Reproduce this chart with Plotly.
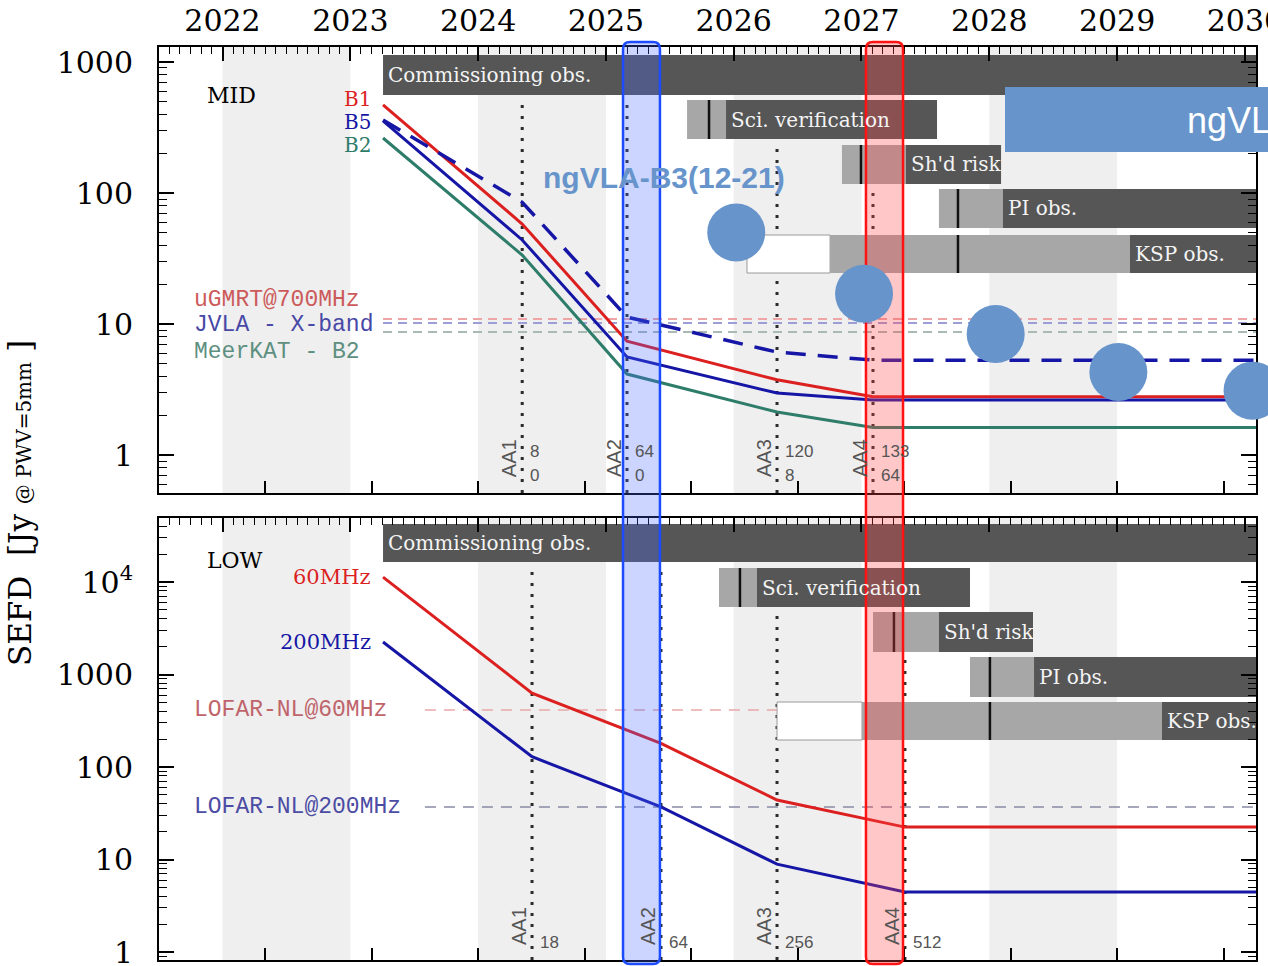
import math
import plotly.graph_objects as go

# ---------------------------------------------------------------- data
YEAR_TICKS = [2022, 2023, 2024, 2025, 2026, 2027, 2028, 2029, 2030]
YEAR_LABELS = ["2022", "2023", "2024", "2025", "2026", "2027", "2028", "2029", "2030"]
SHADED_YEARS = [[2022, 2023], [2024, 2025], [2026, 2027], [2028, 2029]]

CURVE_START = 2023.256

AA_NAMES = ["AA1", "AA2", "AA3", "AA4"]
MID_AA_YEAR = [2024.345, 2025.165, 2026.339, 2027.090]
MID_AA_SKA_DISHES = ["8", "64", "120", "133"]
MID_AA_MK_DISHES = ["0", "0", "8", "64"]
LOW_AA_YEAR = [2024.422, 2025.431, 2026.339, 2027.340]
LOW_AA_STATIONS = ["18", "64", "256", "512"]

# SEFD [Jy] at curve start, AA1, AA2, AA3, AA4 and at the end of the time axis
MID_B1 = [470, 58, 7.4, 3.75, 2.78, 2.78]
MID_B5 = [355, 43.8, 5.6, 2.97, 2.63, 2.63]
MID_B2 = [263, 33.6, 4.15, 2.13, 1.62, 1.62]
MID_B5_HI = [361, 85, 11.3, 6.1, 5.3, 5.3]
LOW_60MHZ = [11300, 630, 180, 44, 22.4, 22.4]
LOW_200MHZ = [2245, 129, 37, 8.9, 4.45, 4.45]

MID_REF_NAMES = ["uGMRT@700MHz", "JVLA - X-band", "MeerKAT - B2"]
MID_REF_SEFD = [10.9, 10.2, 8.7]
LOW_REF_NAMES = ["LOFAR-NL@60MHz", "LOFAR-NL@200MHz"]
LOW_REF_SEFD = [413, 37]
LOW_REF_START = 2023.584

PHASE_NAMES = ["Commissioning obs.", "Sci. verification", "Sh'd risk", "PI obs.", "KSP obs."]
MID_PHASE_OPEN = [None, None, None, None, 2026.104]
MID_PHASE_EARLY = [None, 2025.635, 2026.847, 2027.606, 2026.754]
MID_PHASE_NOMINAL = [None, 2025.807, 2026.996, 2027.755, 2027.755]
MID_PHASE_START = [2023.256, 2025.940, 2027.348, 2028.107, 2029.101]
MID_PHASE_END = [None, 2027.591, 2028.092, None, None]

LOW_PHASE_OPEN = [None, None, None, None, 2026.339]
LOW_PHASE_EARLY = [None, 2025.885, 2027.090, 2027.849, 2027.004]
LOW_PHASE_NOMINAL = [None, 2026.049, 2027.254, 2028.005, 2028.005]
LOW_PHASE_START = [2023.256, 2026.182, 2027.606, 2028.350, 2029.351]
LOW_PHASE_END = [None, 2027.849, 2028.342, None, None]

NGVLA_YEAR = [2026.02, 2027.02, 2028.05, 2029.01, 2030.06]
NGVLA_SEFD = [50, 17, 8.4, 4.3, 3.1]
HIGHLIGHT_YEARS = [[2025.134, 2025.423], [2027.035, 2027.325]]

# ---------------------------------------------------------------- layout
FIG_W, FIG_H = 1268, 966
PLOT_L, PLOT_R = 159, 1256
TOP_T, TOP_B = 47, 493
BOT_T, BOT_B = 518, 960
X_RANGE = [2021.503, 2030.087]
TOP_LOG = [-0.290, 3.1145]
BOT_LOG = [-0.0865, 4.692]

SERIF = "DejaVu Serif"
SANS = "Liberation Sans"
MONO = "Liberation Mono"

DARK = "#565656"
LIGHT = "#a7a7a7"
BAND = "#efefef"
RED = "#dc1f1f"
BLUE = "#1616a6"
GREEN = "#2e7c6a"
NGVLA = "#6794cb"

X_DOMAIN = [PLOT_L / FIG_W, PLOT_R / FIG_W]
TOP_DOMAIN = [1 - TOP_B / FIG_H, 1 - TOP_T / FIG_H]
BOT_DOMAIN = [1 - BOT_B / FIG_H, 1 - BOT_T / FIG_H]
TOP_H = TOP_B - TOP_T
BOT_H = BOT_B - BOT_T

# bar rows: (top, bottom) offsets from the panel's upper frame, px
TOP_ROWS = [(8, 48), (53, 92), (98, 137), (142, 181), (188, 226)]
BOT_ROWS = [(6, 44), (50, 89), (94, 134), (139, 179), (184, 222)]
AA_LINE_ROW = [0, 0, 1, 2]


def note(text, x, xref, y, yref, font, xanchor="center", **kw):
    return dict(text=text, x=x, xref=xref, y=y, yref=yref, xanchor=xanchor,
                yanchor="middle", showarrow=False, font=font, **kw)


def panel_decor(xr, yr, height, rows, phases, aa_years):
    yd = yr + " domain"
    shapes, notes = [], []
    for a, b in SHADED_YEARS:
        shapes.append(dict(type="rect", xref=xr, yref=yd, x0=a, x1=b, y0=0, y1=1,
                           fillcolor=BAND, line_width=0, layer="below"))
    for yv, r in zip(aa_years, AA_LINE_ROW):
        shapes.append(dict(type="line", xref=xr, yref=yd, x0=yv, x1=yv, y0=0,
                           y1=1 - (rows[r][1] + 4) / height, layer="below",
                           line=dict(color="#2a2a2a", width=3, dash="3px,8px")))
    p_open, p_early, p_nom, p_start, p_end = phases
    for k, name in enumerate(PHASE_NAMES):
        y_top = 1 - rows[k][0] / height
        y_bot = 1 - rows[k][1] / height
        stop = p_end[k] if p_end[k] is not None else X_RANGE[1]
        if p_open[k] is not None:
            shapes.append(dict(type="rect", xref=xr, yref=yd, x0=p_open[k], x1=p_early[k],
                               y0=y_bot, y1=y_top, fillcolor="white",
                               line=dict(color="#9a9a9a", width=1), layer="below"))
        if p_early[k] is not None:
            shapes.append(dict(type="rect", xref=xr, yref=yd, x0=p_early[k], x1=p_start[k],
                               y0=y_bot, y1=y_top, fillcolor=LIGHT, line_width=0, layer="below"))
        shapes.append(dict(type="rect", xref=xr, yref=yd, x0=p_start[k], x1=stop,
                           y0=y_bot, y1=y_top, fillcolor=DARK, line_width=0, layer="below"))
        if p_nom[k] is not None:
            shapes.append(dict(type="line", xref=xr, yref=yd, x0=p_nom[k], x1=p_nom[k],
                               y0=y_bot, y1=y_top, line=dict(color="#111111", width=2.5),
                               layer="below"))
        notes.append(note(name, p_start[k], xr, (y_top + y_bot) / 2, yd,
                          dict(family=SERIF, size=20, color="#f4f4f4"),
                          xanchor="left", xshift=3))
    return shapes, notes


def aa_notes(xr, yr, aa_years, rows_text, name_y):
    yd = yr + " domain"
    notes = []
    for k, yv in enumerate(aa_years):
        notes.append(note(AA_NAMES[k], yv, xr, name_y, yd,
                          dict(family=SANS, size=20, color="#555555"),
                          xshift=-13, textangle=-90))
        for labels, ty in rows_text:
            notes.append(note(labels[k], yv, xr, ty, yd,
                              dict(family=SANS, size=17, color="#555555"),
                              xanchor="left", xshift=6))
    return notes


fig = go.Figure()

# ---- MID panel
x_mid = [CURVE_START] + MID_AA_YEAR + [X_RANGE[1]]
for name, v, col in zip(MID_REF_NAMES, MID_REF_SEFD, ["#eda5a5", "#9d9dd8", "#a9bab2"]):
    fig.add_trace(go.Scatter(x=[CURVE_START, X_RANGE[1]], y=[v, v], mode="lines",
                             line=dict(color=col, width=2, dash="9px,6px"),
                             xaxis="x", yaxis="y", hoverinfo="skip"))
fig.add_trace(go.Scatter(x=x_mid, y=MID_B2, mode="lines", line=dict(color=GREEN, width=3),
                         xaxis="x", yaxis="y"))
fig.add_trace(go.Scatter(x=x_mid, y=MID_B1, mode="lines", line=dict(color=RED, width=3),
                         xaxis="x", yaxis="y"))
fig.add_trace(go.Scatter(x=x_mid, y=MID_B5, mode="lines", line=dict(color=BLUE, width=3),
                         xaxis="x", yaxis="y"))
fig.add_trace(go.Scatter(x=x_mid, y=MID_B5_HI, mode="lines",
                         line=dict(color=BLUE, width=3.5, dash="20px,12px"),
                         xaxis="x", yaxis="y"))
# empty carriers so the top-edge calendar axes get drawn
fig.add_trace(go.Scatter(x=[], y=[], xaxis="x3", yaxis="y", hoverinfo="skip"))
fig.add_trace(go.Scatter(x=[], y=[], xaxis="x4", yaxis="y2", hoverinfo="skip"))

# ---- LOW panel
x_low = [CURVE_START] + LOW_AA_YEAR + [X_RANGE[1]]
low_ref_end = [LOW_PHASE_OPEN[4], X_RANGE[1]]
for v, end, col in zip(LOW_REF_SEFD, low_ref_end, ["#e9a9a9", "#8a8aa6"]):
    fig.add_trace(go.Scatter(x=[LOW_REF_START, end], y=[v, v], mode="lines",
                             line=dict(color=col, width=1.6, dash="11px,8px"),
                             xaxis="x2", yaxis="y2", hoverinfo="skip"))
fig.add_trace(go.Scatter(x=x_low, y=LOW_60MHZ, mode="lines", line=dict(color=RED, width=3),
                         xaxis="x2", yaxis="y2"))
fig.add_trace(go.Scatter(x=x_low, y=LOW_200MHZ, mode="lines", line=dict(color=BLUE, width=3),
                         xaxis="x2", yaxis="y2"))

# ---- ngVLA points on a full-page twin of the MID scales (drawn above the highlights)
ppy = (PLOT_R - PLOT_L) / (X_RANGE[1] - X_RANGE[0])
ppd = TOP_H / (TOP_LOG[1] - TOP_LOG[0])
X5_RANGE = [X_RANGE[0] - PLOT_L / ppy, X_RANGE[1] + (FIG_W - PLOT_R) / ppy]
Y5_RANGE = [TOP_LOG[0] - (FIG_H - TOP_B) / ppd, TOP_LOG[1] + TOP_T / ppd]
fig.add_trace(go.Scatter(x=NGVLA_YEAR, y=NGVLA_SEFD, mode="markers", cliponaxis=False,
                         marker=dict(size=58, color=NGVLA, line_width=0),
                         xaxis="x5", yaxis="y5"))

# ---------------------------------------------------------------- shapes / notes
shapes, notes = [], []
s, n = panel_decor("x", "y", TOP_H, TOP_ROWS,
                   (MID_PHASE_OPEN, MID_PHASE_EARLY, MID_PHASE_NOMINAL, MID_PHASE_START,
                    MID_PHASE_END), MID_AA_YEAR)
shapes += s
notes += n
s, n = panel_decor("x2", "y2", BOT_H, BOT_ROWS,
                   (LOW_PHASE_OPEN, LOW_PHASE_EARLY, LOW_PHASE_NOMINAL, LOW_PHASE_START,
                    LOW_PHASE_END), LOW_AA_YEAR)
shapes += s
notes += n

# highlight columns, rounded, spanning both panels
hl_top, hl_bot, rad = 42, 964, 7
mid_px = (hl_top + hl_bot) / 2
hh = (hl_bot - hl_top) / 2
y_anchor = 10 ** (Y5_RANGE[1] - mid_px / FIG_H * (Y5_RANGE[1] - Y5_RANGE[0]))
for (a, b), fill, edge in zip(HIGHLIGHT_YEARS,
                              ["rgba(70,105,255,0.28)", "rgba(255,70,70,0.30)"],
                              ["#1d4cff", "#ff1212"]):
    hw = (b - a) / 2 * ppy
    path = (f"M {-hw + rad},{-hh} L {hw - rad},{-hh} Q {hw},{-hh} {hw},{-hh + rad} "
            f"L {hw},{hh - rad} Q {hw},{hh} {hw - rad},{hh} L {-hw + rad},{hh} "
            f"Q {-hw},{hh} {-hw},{hh - rad} L {-hw},{-hh + rad} Q {-hw},{-hh} {-hw + rad},{-hh} Z")
    shapes.append(dict(type="path", xref="x5", yref="y5", xsizemode="pixel", ysizemode="pixel",
                       xanchor=(a + b) / 2, yanchor=y_anchor, path=path, fillcolor=fill,
                       line=dict(color=edge, width=2.5), layer="below"))

# ngVLA banner
shapes.append(dict(type="rect", xref="paper", yref="paper", x0=1005 / FIG_W, x1=1.05,
                   y0=1 - 152 / FIG_H, y1=1 - 87 / FIG_H, fillcolor=NGVLA, line_width=0,
                   layer="above"))

# panel labels
notes.append(note("MID", 0.042, "x domain", 0.892, "y domain",
                  dict(family=SERIF, size=22, color="black"), xanchor="left"))
notes.append(note("LOW", 0.042, "x2 domain", 0.903, "y2 domain",
                  dict(family=SERIF, size=22, color="black"), xanchor="left"))
for txt, yy, col in zip(["B1", "B5", "B2"], [0.883, 0.832, 0.780], [RED, BLUE, GREEN]):
    notes.append(note(txt, CURVE_START, "x", yy, "y domain",
                      dict(family=SERIF, size=20, color=col), xanchor="right", xshift=-10))
for txt, vals, col in zip(["60MHz", "200MHz"], [LOW_60MHZ, LOW_200MHZ], [RED, BLUE]):
    notes.append(note(txt, CURVE_START, "x2", math.log10(vals[0]), "y2",
                      dict(family=SERIF, size=21, color=col), xanchor="right", xshift=-10))
for txt, yy, col in zip(MID_REF_NAMES, [0.433, 0.377, 0.316], ["#cc5a5a", "#4848a6", "#5e8f80"]):
    notes.append(note(txt, 0.030, "x domain", yy, "y domain",
                      dict(family=MONO, size=23, color=col), xanchor="left"))
for txt, v, col in zip(LOW_REF_NAMES, LOW_REF_SEFD, ["#c0646c", "#4c4ca4"]):
    notes.append(note(txt, 0.030, "x2 domain", math.log10(v), "y2",
                      dict(family=MONO, size=23, color=col), xanchor="left"))

notes += aa_notes("x", "y", MID_AA_YEAR,
                  [(MID_AA_SKA_DISHES, 0.092), (MID_AA_MK_DISHES, 0.040)], 0.0785)
notes += aa_notes("x2", "y2", LOW_AA_YEAR, [(LOW_AA_STATIONS, 0.0385)], 0.077)

notes.append(note("ngVLA-B3(12-21)", 541 / FIG_W, "paper", 1 - 178 / FIG_H, "paper",
                  dict(family=SANS, size=30, color=NGVLA, weight="bold"), xanchor="left"))
notes.append(note("ngVLA", 1185 / FIG_W, "paper", 1 - 120 / FIG_H, "paper",
                  dict(family=SANS, size=36, color="white"), xanchor="left"))
notes.append(note("SEFD  [Jy <span style='font-size:20px'>@ PWV=5mm</span> ]",
                  20 / FIG_W, "paper", 1 - 503 / FIG_H, "paper",
                  dict(family=SERIF, size=31, color="black"), textangle=-90))

# ---------------------------------------------------------------- axes
frame = dict(showline=True, linecolor="black", linewidth=2, showgrid=False, zeroline=False,
             automargin=False)
bottom_ticks = dict(ticks="inside", tickmode="linear", tick0=2022 + 4 / 12, dtick=10 / 12,
                    ticklen=12, tickwidth=1.5, tickcolor="black", showticklabels=False)
top_ticks = dict(side="top", ticks="inside", tickmode="array", tickvals=YEAR_TICKS,
                 ticklen=14, tickwidth=1.5, tickcolor="black",
                 minor=dict(ticks="inside", dtick=1 / 12, tick0=2022, ticklen=7,
                            tickwidth=1, tickcolor="black"))
minor_log = [m * 10 ** e for e in range(-1, 5) for m in range(2, 10)]
ylog = dict(type="log", ticks="inside", ticklen=15, tickwidth=1.5, tickcolor="black",
            mirror="ticks", tickmode="array", ticklabelstandoff=18, ticklabeloverflow="allow",
            tickfont=dict(family=SERIF, size=30, color="black"),
            minor=dict(ticks="inside", ticklen=8, tickwidth=1, tickcolor="black",
                       tickmode="array", tickvals=minor_log))

fig.update_layout(
    width=FIG_W, height=FIG_H, autosize=False,
    margin=dict(l=0, r=0, t=0, b=0, pad=0, autoexpand=False),
    paper_bgcolor="white", plot_bgcolor="rgba(0,0,0,0)",
    showlegend=False, hovermode=False,
    xaxis=dict(domain=X_DOMAIN, range=X_RANGE, anchor="y", **frame, **bottom_ticks),
    xaxis3=dict(overlaying="x", anchor="y", range=X_RANGE, **frame, **top_ticks,
                ticktext=YEAR_LABELS, ticklabelstandoff=2, ticklabeloverflow="allow",
                tickfont=dict(family=SERIF, size=30, color="black")),
    yaxis=dict(domain=TOP_DOMAIN, range=TOP_LOG, anchor="x", **frame, **ylog,
               tickvals=[1, 10, 100, 1000], ticktext=["1", "10", "100", "1000"]),
    xaxis2=dict(domain=X_DOMAIN, range=X_RANGE, anchor="y2", **frame, **bottom_ticks),
    xaxis4=dict(overlaying="x2", anchor="y2", range=X_RANGE, **frame, **top_ticks,
                showticklabels=False),
    yaxis2=dict(domain=BOT_DOMAIN, range=BOT_LOG, anchor="x2", **frame, **ylog,
                tickvals=[1, 10, 100, 1000, 10000],
                ticktext=["1", "10", "100", "1000", "10<sup>4</sup>"]),
    xaxis5=dict(domain=[0, 1], range=X5_RANGE, anchor="y5", visible=False),
    yaxis5=dict(domain=[0, 1], range=Y5_RANGE, type="log", anchor="x5", visible=False),
    shapes=shapes,
    annotations=notes,
)

fig.write_html("out.html")
